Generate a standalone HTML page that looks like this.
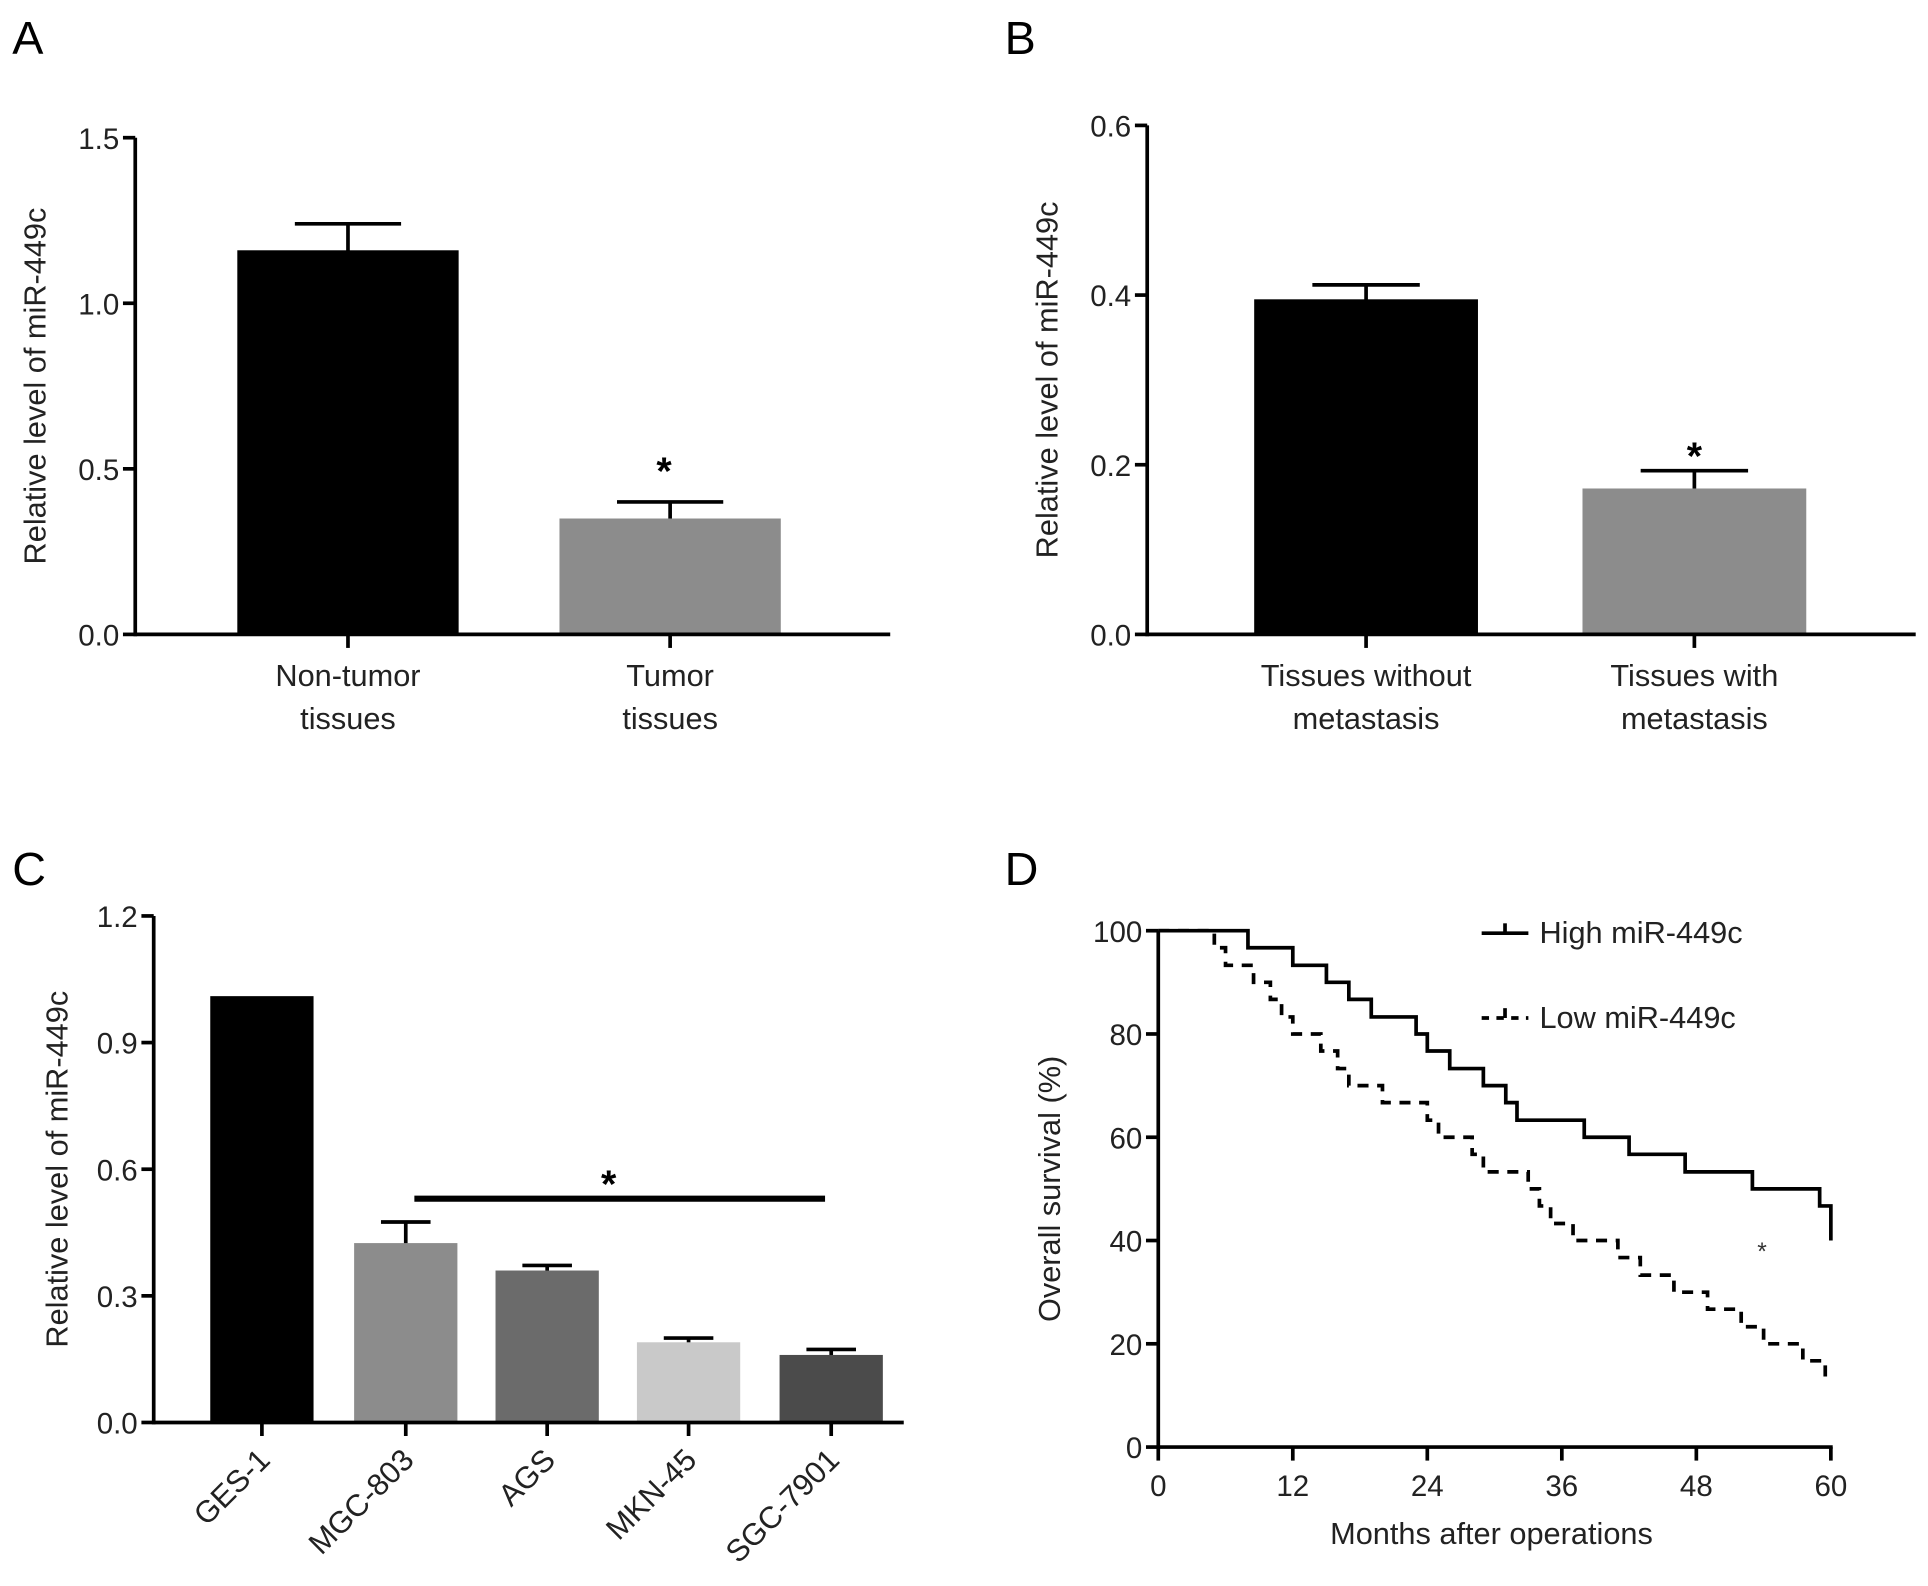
<!DOCTYPE html>
<html><head><meta charset="utf-8"><style>
html,body{margin:0;padding:0;background:#fff;}
svg{display:block;font-family:"Liberation Sans",Arial,sans-serif;}
</style></head><body>
<svg id="fig" width="1928" height="1586" viewBox="0 0 1568 1290" preserveAspectRatio="none" xmlns="http://www.w3.org/2000/svg"></svg>
<script>
// Panel A data
const aCats = [["Non-tumor","tissues"],["Tumor","tissues"]];
const aVals = [1.16, 0.35];
const aErr = [0.08, 0.05];
const aTicks = [0.0, 0.5, 1.0, 1.5];
// Panel B data
const bCats = [["Tissues without","metastasis"],["Tissues with","metastasis"]];
const bVals = [0.395, 0.172];
const bErr = [0.017, 0.021];
const bTicks = [0.0, 0.2, 0.4, 0.6];
// Panel C data
const cCats = ["GES-1","MGC-803","AGS","MKN-45","SGC-7901"];
const cVals = [1.01, 0.425, 0.36, 0.19, 0.16];
const cErr = [0, 0.05, 0.012, 0.01, 0.013];
const cTicks = [0.0, 0.3, 0.6, 0.9, 1.2];
// Panel D data (Kaplan-Meier)
const dTicksX = [0, 12, 24, 36, 48, 60];
const dTicksY = [0, 20, 40, 60, 80, 100];
const highT = [0, 8, 12, 15, 17, 19, 23, 24, 26, 29, 31, 32, 38, 42, 47, 53, 59, 60];
const highS = [100, 96.7, 93.3, 90, 86.7, 83.3, 80, 76.7, 73.3, 70, 66.7, 63.3, 60, 56.7, 53.3, 50, 46.7, 40];
const lowT = [0, 5, 6, 8.5, 10, 11, 12, 14.5, 16, 17, 20, 24, 25, 28, 29, 33, 34, 35, 37, 41, 43, 46, 49, 52, 54, 57.5, 59.5];
const lowS = [100, 96.7, 93.3, 90, 86.7, 83.3, 80, 76.7, 73.3, 70, 66.7, 63.3, 60, 56.7, 53.3, 50, 46.7, 43.3, 40, 36.7, 33.3, 30, 26.7, 23.3, 20, 16.7, 13.3];

const NS = "http://www.w3.org/2000/svg";
const svg = document.getElementById("fig");
const TICK_FS = 24, TITLE_FS = 25, CAT_FS = 25;
function el(tag, attrs, parent, text) {
  const e = document.createElementNS(NS, tag);
  for (const k in attrs) e.setAttribute(k, attrs[k]);
  if (text !== undefined) e.textContent = text;
  (parent || svg).appendChild(e);
  return e;
}
function panelLetter(t, x, y) {
  const e = el("text", {x: x, y: y, "font-size": 38}, svg, t);
  
  
}
function yAxis(g, x0, yScale, ticks, dec, yTop, yBot, title, titleX) {
  const ax = el("line", {x1: x0, x2: x0, y1: yTop, y2: yBot + 1.5, stroke: "#000", "stroke-width": 3}, g);
  
  
  ticks.forEach(t => {
    const y = yScale(t);
    el("line", {x1: x0 - 10, x2: x0, y1: y, y2: y, stroke: "#000", "stroke-width": 3}, g);
    const lb = el("text", {x: x0 - 13, y: y + 9, "font-size": TICK_FS, "text-anchor": "end", fill: "#222"}, g, t.toFixed(dec));
    
    
  });
  const ty = (yTop + yBot) / 2;
  const tt = el("text", {x: titleX, y: ty, "font-size": TITLE_FS, "text-anchor": "middle", fill: "#222", transform: `rotate(-90 ${titleX} ${ty})`}, g, title);
  
  
}
function bar(g, x, w, v, err, yScale, color, name) {
  const y0 = yScale(0), y = yScale(v);
  if (err > 0) {
    const ye = yScale(v + err);
    const cx = x + w / 2;
    el("line", {x1: cx, x2: cx, y1: ye, y2: y + 8, stroke: "#000", "stroke-width": 3}, g);
    const cap = el("line", {x1: cx - w * 0.24, x2: cx + w * 0.24, y1: ye, y2: ye, stroke: "#000", "stroke-width": 3}, g);
    
    
  }
  const r = el("rect", {x: x, y: y, width: w, height: y0 - y, fill: color}, g);
  
  
}

// ---------- Panel A ----------
(function(){
  const g = el("g", {});  
  const x0 = 110, y0 = 516, y1 = 112, xEnd = 724;
  const ys = v => y0 - (v - 0) / 1.5 * (y0 - y1);
  const centers = [283, 545], w = 180, colors = ["#000", "#8c8c8c"];
  aVals.forEach((v, i) => bar(g, centers[i] - w / 2, w, v, aErr[i], ys, colors[i], 'bar-a-' + i));
  el("line", {x1: x0, x2: xEnd, y1: y0, y2: y0, stroke: "#000", "stroke-width": 3}, g);
  yAxis(g, x0, ys, aTicks, 1, y1, y0, "Relative level of miR-449c", 37);
  aCats.forEach((c, i) => {
    el("line", {x1: centers[i], x2: centers[i], y1: y0, y2: y0 + 11, stroke: "#000", "stroke-width": 3}, g);
    c.forEach((ln, j) => { const t = el("text", {x: centers[i], y: y0 + 42 + j * 35, "font-size": CAT_FS, "text-anchor": "middle", fill: "#222"}, g, ln);
        });
  });
  const s = el("text", {x: 540, y: 394, "font-size": 32, "text-anchor": "middle", "font-weight": "bold"}, g, "*");
   
})();
panelLetter("A", 10, 44);

// ---------- Panel B ----------
(function(){
  const g = el("g", {});  
  const x0 = 933, y0 = 516, y1 = 102, xEnd = 1558;
  const ys = v => y0 - v / 0.6 * (y0 - y1);
  const centers = [1111, 1378], w = 182, colors = ["#000", "#8c8c8c"];
  bVals.forEach((v, i) => bar(g, centers[i] - w / 2, w, v, bErr[i], ys, colors[i], 'bar-b-' + i));
  el("line", {x1: x0, x2: xEnd, y1: y0, y2: y0, stroke: "#000", "stroke-width": 3}, g);
  yAxis(g, x0, ys, bTicks, 1, y1, y0, "Relative level of miR-449c", 860);
  bCats.forEach((c, i) => {
    el("line", {x1: centers[i], x2: centers[i], y1: y0, y2: y0 + 11, stroke: "#000", "stroke-width": 3}, g);
    c.forEach((ln, j) => { const t = el("text", {x: centers[i], y: y0 + 42 + j * 35, "font-size": CAT_FS, "text-anchor": "middle", fill: "#222"}, g, ln);
        });
  });
  const s = el("text", {x: 1378, y: 382, "font-size": 32, "text-anchor": "middle", "font-weight": "bold"}, g, "*");
   
})();
panelLetter("B", 817, 44);

// ---------- Panel C ----------
(function(){
  const g = el("g", {});  
  const x0 = 125, y0 = 1157, y1 = 745, xEnd = 735;
  const ys = v => y0 - v / 1.2 * (y0 - y1);
  const centers = [213, 330, 445, 560, 676], w = 84;
  const colors = ["#000", "#8c8c8c", "#6b6b6b", "#c9c9c9", "#4b4b4b"];
  cVals.forEach((v, i) => bar(g, centers[i] - w / 2, w, v, cErr[i], ys, colors[i], 'bar-' + cCats[i].toLowerCase()));
  el("line", {x1: x0, x2: xEnd, y1: y0, y2: y0, stroke: "#000", "stroke-width": 3}, g);
  yAxis(g, x0, ys, cTicks, 1, y1, y0, "Relative level of miR-449c", 55);
  cCats.forEach((c, i) => {
    el("line", {x1: centers[i], x2: centers[i], y1: y0, y2: y0 + 11, stroke: "#000", "stroke-width": 3}, g);
    const tx = centers[i] + 8, ty = y0 + 32;
    const t = el("text", {x: tx, y: ty, "font-size": CAT_FS, "text-anchor": "end", fill: "#222", transform: `rotate(-45 ${tx} ${ty})`}, g, c);
     
  });
  const sl = el("line", {x1: 337, x2: 671, y1: 975, y2: 975, stroke: "#000", "stroke-width": 5}, g);
   
  const s = el("text", {x: 495, y: 974, "font-size": 32, "text-anchor": "middle", "font-weight": "bold"}, g, "*");
   
})();
panelLetter("C", 10, 720);

// ---------- Panel D ----------
(function(){
  const g = el("g", {});  
  const x0 = 942, x1 = 1489, y0 = 1177, y1 = 757;
  const xs = t => x0 + t / 60 * (x1 - x0);
  const ys = v => y0 - v / 100 * (y0 - y1);
  function stepPath(T, S) {
    let d = `M${xs(T[0])},${ys(S[0])}`;
    for (let i = 1; i < T.length; i++) d += ` H${xs(T[i])} V${ys(S[i])}`;
    if (T[T.length - 1] < 60) d += ` H${xs(60)}`;
    return d;
  }
  const hp = el("path", {d: stepPath(highT, highS), fill: "none", stroke: "#000", "stroke-width": 3}, g);
   
  const lp = el("path", {d: stepPath(lowT, lowS), fill: "none", stroke: "#000", "stroke-width": 3, "stroke-dasharray": "9 7"}, g);
   
  const xa = el("line", {x1: x0 - 1.5, x2: x1 + 1.5, y1: y0, y2: y0, stroke: "#000", "stroke-width": 3}, g);
   
  const ya = el("line", {x1: x0, x2: x0, y1: y1, y2: y0, stroke: "#000", "stroke-width": 3}, g);
   
  dTicksX.forEach(t => {
    el("line", {x1: xs(t), x2: xs(t), y1: y0, y2: y0 + 11, stroke: "#000", "stroke-width": 3}, g);
    const lb = el("text", {x: xs(t), y: y0 + 40, "font-size": TICK_FS, "text-anchor": "middle", fill: "#222"}, g, String(t));
     
  });
  dTicksY.forEach(t => {
    el("line", {x1: x0 - 10, x2: x0, y1: ys(t), y2: ys(t), stroke: "#000", "stroke-width": 3}, g);
    const lb = el("text", {x: x0 - 13, y: ys(t) + 9, "font-size": TICK_FS, "text-anchor": "end", fill: "#222"}, g, String(t));
     
  });
  const xt = el("text", {x: 1213, y: 1256, "font-size": TITLE_FS, "text-anchor": "middle", fill: "#222"}, g, "Months after operations");
   
  const yt = el("text", {x: 862, y: 967, "font-size": TITLE_FS, "text-anchor": "middle", fill: "#222", transform: "rotate(-90 862 967)"}, g, "Overall survival (%)");
   
  const l1 = el("g", {}, g);  
  el("line", {x1: 1205, x2: 1243, y1: 759, y2: 759, stroke: "#000", "stroke-width": 3}, l1);
  el("line", {x1: 1224, x2: 1224, y1: 751, y2: 759, stroke: "#000", "stroke-width": 3}, l1);
  el("text", {x: 1252, y: 767, "font-size": TITLE_FS, fill: "#222"}, l1, "High miR-449c");
  const l2 = el("g", {}, g);  
  el("line", {x1: 1205, x2: 1243, y1: 828, y2: 828, stroke: "#000", "stroke-width": 3, "stroke-dasharray": "6 6"}, l2);
  el("line", {x1: 1224, x2: 1224, y1: 820, y2: 828, stroke: "#000", "stroke-width": 3}, l2);
  el("text", {x: 1252, y: 836, "font-size": TITLE_FS, fill: "#222"}, l2, "Low miR-449c");
  const s = el("text", {x: 1433, y: 1025, "font-size": 20, "text-anchor": "middle", fill: "#333"}, g, "*");
   
})();
panelLetter("D", 817, 720);
</script>
</body></html>
